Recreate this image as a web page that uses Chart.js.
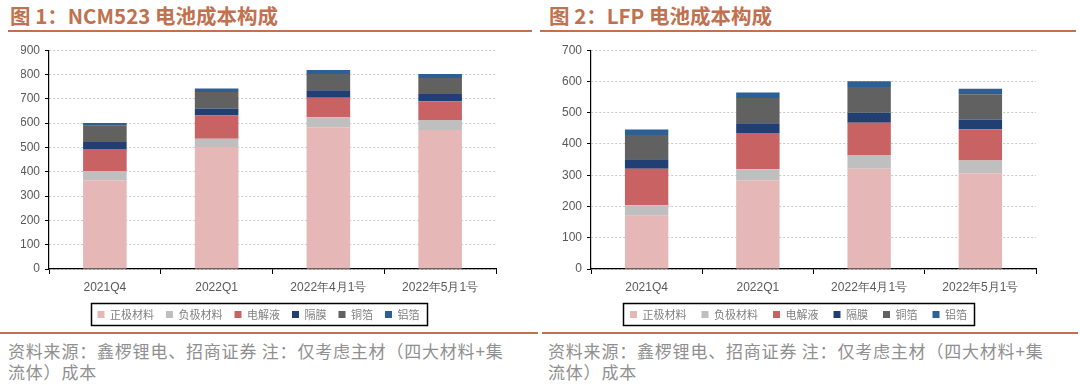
<!DOCTYPE html>
<html><head><meta charset="utf-8">
<script src="https://cdn.jsdelivr.net/npm/chart.js@4/dist/chart.umd.min.js"></script>
<style>
html,body{margin:0;padding:0;background:#fff;width:1080px;height:385px;overflow:hidden;}
.panel{position:absolute;top:0;width:540px;height:385px;}
.title{position:absolute;top:2px;font-family:"Noto Sans CJK SC","Liberation Sans",sans-serif;font-weight:bold;font-size:20.5px;color:#C0714F;white-space:nowrap;line-height:26px;}
.rule{position:absolute;height:2px;background:#C0714F;}
.cv{position:absolute;top:38px;left:0;width:540px;height:292px;}
.foot{position:absolute;top:340px;font-family:"Noto Sans CJK SC",sans-serif;font-size:17px;color:#8F8F8F;line-height:21px;letter-spacing:0.8px;white-space:nowrap;}
</style></head>
<body>
<div class="panel" style="left:0">
  <div class="title" style="left:10px">图 1：NCM523 电池成本构成</div>
  <div class="rule" style="left:8px;width:524px;top:30px"></div>
  <div class="cv"><canvas id="c1"></canvas></div>
  <div class="rule" style="left:0;width:538px;top:332px;height:1.5px"></div>
  <div class="foot" style="left:8px">资料来源：鑫椤锂电、招商证券 注：仅考虑主材（四大材料+集<br>流体）成本</div>
</div>
<div class="panel" style="left:540px">
  <div class="title" style="left:9px">图 2：LFP 电池成本构成</div>
  <div class="rule" style="left:0;width:536px;top:30px"></div>
  <div class="cv"><canvas id="c2"></canvas></div>
  <div class="rule" style="left:2px;width:536px;top:332px;height:1.5px"></div>
  <div class="foot" style="left:8px">资料来源：鑫椤锂电、招商证券 注：仅考虑主材（四大材料+集<br>流体）成本</div>
</div>
<script>
const categories = ['2021Q4', '2022Q1', '2022年4月1号', '2022年5月1号'];
const seriesNames = ['正极材料', '负极材料', '电解液', '隔膜', '铜箔', '铝箔'];
const seriesColors = ['#E5B7B7', '#BFBFBF', '#C96262', '#223F73', '#616161', '#2C5F95'];

// NCM523 (left)
const ncmCathode     = [365, 502, 583, 572];
const ncmAnode       = [38, 34, 41, 41];
const ncmElectrolyte = [91, 95, 80, 77];
const ncmSeparator   = [28, 29, 31, 30];
const ncmCopper      = [67, 68, 67, 66];
const ncmAluminum    = [12, 14, 17, 16];
const ncmTicks = { max: 900, step: 100 };

// LFP (right)
const lfpCathode     = [170, 284, 321, 306];
const lfpAnode       = [34, 35, 42, 41];
const lfpElectrolyte = [117, 116, 105, 100];
const lfpSeparator   = [30, 31, 32, 31];
const lfpCopper      = [78, 81, 82, 81];
const lfpAluminum    = [17, 18, 19, 18];
const lfpTicks = { max: 700, step: 100 };

const legendBox = {
  id: 'legendBox',
  afterDraw(chart) {
    const hb = chart.legend && chart.legend.legendHitBoxes;
    if (!hb || !hb.length) return;
    let l = Infinity, r = -Infinity, t = Infinity, b = -Infinity;
    hb.forEach(h => { l = Math.min(l, h.left); r = Math.max(r, h.left + h.width); t = Math.min(t, h.top); b = Math.max(b, h.top + h.height); });
    const ctx = chart.ctx;
    ctx.save();
    ctx.strokeStyle = '#000';
    ctx.lineWidth = 1.5;
    ctx.strokeRect(Math.round(l - 7) + 0.5, Math.round(t - 6) + 0.5, Math.round(r - l + 14), Math.round(b - t + 11));
    ctx.restore();
  }
};

function makeChart(id, data, ticks, yWidth, legendPad, xHeight) {
  const datasets = seriesNames.map((n, i) => ({
    label: n,
    data: data[i],
    backgroundColor: seriesColors[i],
    borderWidth: 0,
    barPercentage: 0.39,
    categoryPercentage: 1.0
  }));
  return new Chart(document.getElementById(id), {
    type: 'bar',
    data: { labels: categories, datasets },
    plugins: [legendBox],
    options: {
      responsive: true,
      maintainAspectRatio: false,
      animation: false,
      layout: { padding: { left: 21, right: 44, top: 3, bottom: 0 } },
      plugins: {
        tooltip: { enabled: false },
        legend: {
          position: 'bottom',
          labels: {
            boxWidth: 7, boxHeight: 7, padding: legendPad,
            color: '#7F7F7F',
            font: { family: '"Noto Sans CJK SC", sans-serif', size: 11 }
          }
        }
      },
      scales: {
        x: {
          stacked: true,
          grid: { display: true, drawOnChartArea: false, drawTicks: true, tickLength: 5, tickColor: '#000', offset: true },
          border: { display: true, color: '#000', width: 1.2 },
          ticks: { color: '#595959', padding: 6, font: { family: '"Liberation Sans", Arial, sans-serif', size: 12 } },
          afterFit(s) { s.height = xHeight; }
        },
        y: {
          stacked: true,
          min: 0, max: ticks.max,
          grid: { color: '#C8C8C8', lineWidth: 1, tickLength: 4, tickColor: '#000', drawTicks: true },
          border: { display: true, color: '#000', width: 1.2, dash: [2, 2] },
          ticks: { stepSize: ticks.step, color: '#595959', padding: 5, font: { family: '"Liberation Sans", Arial, sans-serif', size: 12 } },
          afterFit(s) { s.width = yWidth; }
        }
      }
    }
  });
}

makeChart('c1', [ncmCathode, ncmAnode, ncmElectrolyte, ncmSeparator, ncmCopper, ncmAluminum], ncmTicks, 28, 12, 28);
makeChart('c2', [lfpCathode, lfpAnode, lfpElectrolyte, lfpSeparator, lfpCopper, lfpAluminum], lfpTicks, 30, 15, 25);
</script>
</body></html>
